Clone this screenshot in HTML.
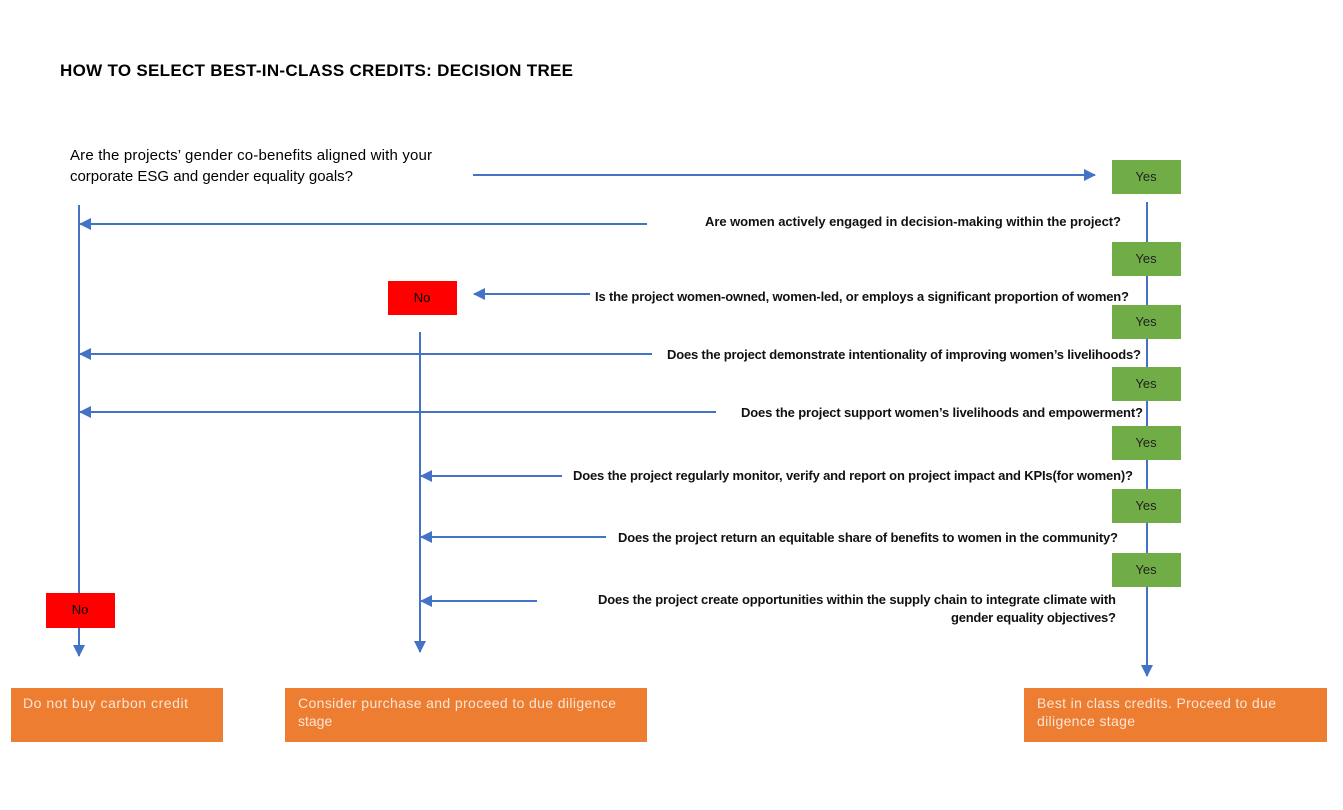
<html><head><style>body{margin:0;background:#fff}svg text{font-family:"Liberation Sans",sans-serif}</style></head><body>
<svg width="1343" height="810" xmlns="http://www.w3.org/2000/svg">
<defs>
<marker id="b" markerWidth="12" markerHeight="12" refX="11" refY="6" orient="auto" markerUnits="userSpaceOnUse" viewBox="0 0 12 12"><path d="M0,0L12,6L0,12z" fill="#4472C4"/></marker></defs>
<text x="60" y="76" font-size="17" font-weight="bold" textLength="513">HOW TO SELECT BEST-IN-CLASS CREDITS: DECISION TREE</text>
<g stroke="#4472C4" stroke-width="2" fill="none">
<line x1="473" y1="175" x2="1095" y2="175" marker-end="url(#b)"/>
<line x1="1147" y1="202" x2="1147" y2="676" marker-end="url(#b)"/>
<line x1="79" y1="205" x2="79" y2="656" marker-end="url(#b)"/>
<line x1="420" y1="332" x2="420" y2="652" marker-end="url(#b)"/>
<line x1="647" y1="224" x2="80" y2="224" marker-end="url(#b)"/>
<line x1="590" y1="294" x2="474" y2="294" marker-end="url(#b)"/>
<line x1="652" y1="354" x2="80" y2="354" marker-end="url(#b)"/>
<line x1="716" y1="412" x2="80" y2="412" marker-end="url(#b)"/>
<line x1="562" y1="476" x2="421" y2="476" marker-end="url(#b)"/>
<line x1="606" y1="537" x2="421" y2="537" marker-end="url(#b)"/>
<line x1="537" y1="601" x2="421" y2="601" marker-end="url(#b)"/>
</g>
<g fill="#70AD47">
<rect x="1112" y="160" width="69" height="34"/><rect x="1112" y="242" width="69" height="34"/><rect x="1112" y="305" width="69" height="34"/><rect x="1112" y="367" width="69" height="34"/><rect x="1112" y="426" width="69" height="34"/><rect x="1112" y="489" width="69" height="34"/><rect x="1112" y="553" width="69" height="34"/>
</g>
<g font-size="13" fill="#222" text-anchor="middle">
<text x="1146" y="181">Yes</text><text x="1146" y="263">Yes</text><text x="1146" y="326">Yes</text><text x="1146" y="388">Yes</text><text x="1146" y="447">Yes</text><text x="1146" y="510">Yes</text><text x="1146" y="574">Yes</text>
</g>
<rect x="388" y="281" width="69" height="34" fill="#FF0000"/><text x="422" y="302" font-size="13" text-anchor="middle">No</text>
<rect x="46" y="593" width="69" height="35" fill="#FF0000"/><text x="80" y="614" font-size="13" text-anchor="middle">No</text>
<g fill="#000">
<text x="70" y="160" font-size="15" textLength="362">Are the projects’ gender co-benefits aligned with your</text>
<text x="70" y="181" font-size="15" textLength="283">corporate ESG and gender equality goals?</text>
</g>
<g font-size="13" font-weight="bold" fill="#111">
<text x="705" y="226" textLength="416">Are women actively engaged in decision-making within the project?</text>
<text x="595" y="301" textLength="534">Is the project women-owned, women-led, or employs a significant proportion of women?</text>
<text x="667" y="359" textLength="474">Does the project demonstrate intentionality of improving women’s livelihoods?</text>
<text x="741" y="417" textLength="402">Does the project support women’s livelihoods and empowerment?</text>
<text x="573" y="480" textLength="560">Does the project regularly monitor, verify and report on project impact and KPIs(for women)?</text>
<text x="618" y="542" textLength="500">Does the project return an equitable share of benefits to women in the community?</text>
<text x="598" y="604" textLength="518">Does the project create opportunities within the supply chain to integrate climate with</text>
<text x="951" y="622" textLength="165">gender equality objectives?</text>
</g>
<rect x="11" y="688" width="212" height="54" fill="#ED7D31"/>
<rect x="285" y="688" width="362" height="54" fill="#ED7D31"/>
<rect x="1024" y="688" width="303" height="54" fill="#ED7D31"/>
<g font-size="14" fill="#FBE5D6">
<text x="23" y="708" textLength="165">Do not buy carbon credit</text>
<text x="298" y="708" textLength="318">Consider purchase and proceed to due diligence</text>
<text x="298" y="726">stage</text>
<text x="1037" y="708" textLength="239">Best in class credits. Proceed to due</text>
<text x="1037" y="726" textLength="98">diligence stage</text>
</g>
</svg></body></html>
